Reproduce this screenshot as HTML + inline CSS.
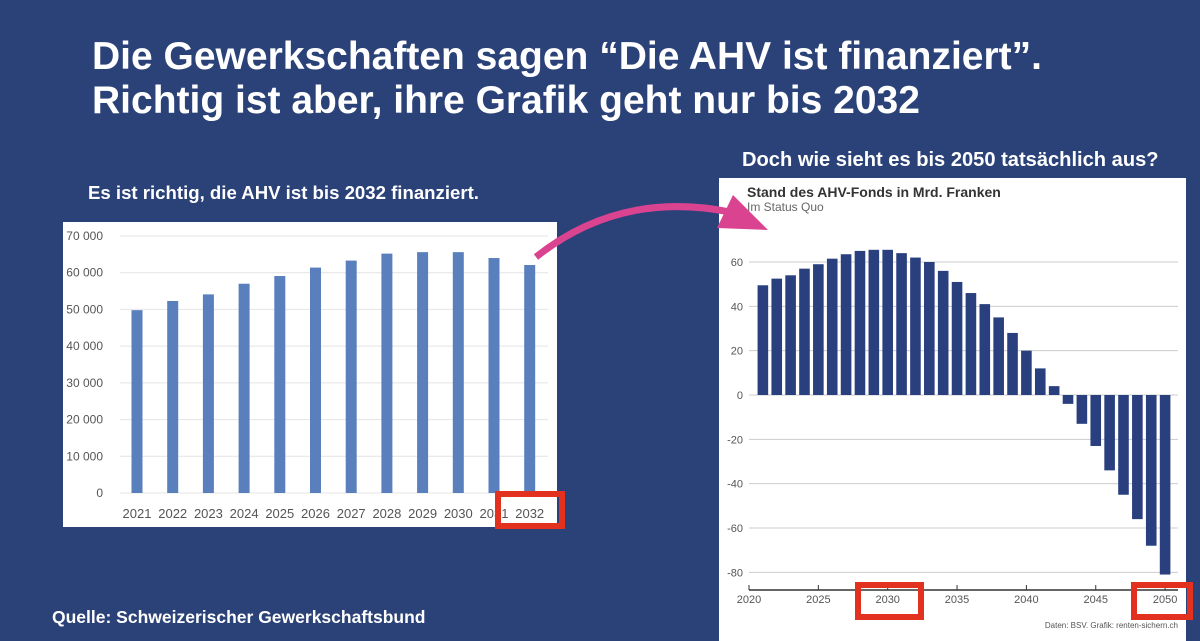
<!DOCTYPE html>
<html><head><meta charset="utf-8"><style>
html,body{margin:0;padding:0}
body{width:1200px;height:641px;background:#2b4278;position:relative;overflow:hidden;font-family:"Liberation Sans",sans-serif}
.t{position:absolute;color:#fff;font-weight:bold;white-space:nowrap}
svg{position:absolute;left:0;top:0}
</style></head><body>
<div class="t" style="left:92px;top:35px;font-size:39px;line-height:44px">Die Gewerkschaften sagen “Die AHV ist finanziert”.<br>Richtig ist aber, ihre Grafik geht nur bis 2032</div>
<div class="t" style="left:88px;top:182px;font-size:18.6px">Es ist richtig, die AHV ist bis 2032 finanziert.</div>
<div class="t" style="left:742px;top:149px;font-size:20.1px">Doch wie sieht es bis 2050 tatsächlich aus?</div>
<div class="t" style="left:52px;top:607px;font-size:17.5px">Quelle: Schweizerischer Gewerkschaftsbund</div>
<svg id="s" width="1200" height="641"></svg>
<script>
const leftYears=["2021","2022","2023","2024","2025","2026","2027","2028","2029","2030","2031","2032"];
const leftValues=[49800,52300,54100,57000,59100,61400,63300,65200,65600,65600,64000,62100];
const leftTicks=[0,10000,20000,30000,40000,50000,60000,70000];
const rightYears=[2021,2022,2023,2024,2025,2026,2027,2028,2029,2030,2031,2032,2033,2034,2035,2036,2037,2038,2039,2040,2041,2042,2043,2044,2045,2046,2047,2048,2049,2050];
const rightValues=[49.5,52.5,54,57,59,61.5,63.5,65,65.5,65.5,64,62,60,56,51,46,41,35,28,20,12,4,-4,-13,-23,-34,-45,-56,-68,-81];
const rightTicks=[-80,-60,-40,-20,0,20,40,60];
const rightXTicks=[2020,2025,2030,2035,2040,2045,2050];
const NS="http://www.w3.org/2000/svg",s=document.getElementById('s');
function mk(t,a,txt){const e=document.createElementNS(NS,t);for(const k in a)e.setAttribute(k,a[k]);if(txt!=null)e.textContent=txt;s.appendChild(e);return e;}
let e=mk('rect',{x:63,y:222,width:494,height:305,fill:'#fff'});

const ly=v=>493-v*(257/70000), lx=i=>137+i*35.7;
leftTicks.forEach(v=>{let g=mk('line',{x1:120,x2:548,y1:ly(v),y2:ly(v),stroke:'#e4e4e4'});
let t=mk('text',{x:103,y:ly(v)+4,'text-anchor':'end','font-size':12,fill:'#555'},v===0?'0':(v/1000)+' 000');});
leftValues.forEach((v,i)=>{let b=mk('rect',{x:lx(i)-5.5,y:ly(v),width:11,height:ly(0)-ly(v),fill:'#5a7fbd'});
let t=mk('text',{x:lx(i),y:518,'text-anchor':'middle','font-size':13,fill:'#555'},leftYears[i]);});
e=mk('rect',{x:498,y:494,width:64,height:32,fill:'none',stroke:'#e2321f','stroke-width':6});
e=mk('rect',{x:719,y:178,width:467,height:463,fill:'#fff'});
e=mk('text',{x:747,y:197,'font-size':14,'font-weight':'bold',fill:'#333'},'Stand des AHV-Fonds in Mrd. Franken');
e=mk('text',{x:747,y:211,'font-size':12,fill:'#666'},'Im Status Quo');
const ry=v=>395-v*(133/60), rx=y=>749+(y-2020)*13.87;
rightTicks.forEach(v=>{let g=mk('line',{x1:749,x2:1178,y1:ry(v),y2:ry(v),stroke:'#ccc'});
let t=mk('text',{x:743,y:ry(v)+4,'text-anchor':'end','font-size':11,fill:'#555'},String(v));});
rightValues.forEach((v,i)=>{const y0=ry(0),y1=ry(v);let b=mk('rect',{x:rx(rightYears[i])-5.3,y:Math.min(y0,y1),width:10.6,height:Math.abs(y1-y0),fill:'#2a3f7e'});});
e=mk('line',{x1:749,x2:1178,y1:590,y2:590,stroke:'#333','stroke-width':1.5});
rightXTicks.forEach(y=>{let l=mk('line',{x1:rx(y),x2:rx(y),y1:585,y2:590,stroke:'#333'});
let t=mk('text',{x:rx(y),y:603,'text-anchor':'middle','font-size':11,fill:'#555'},String(y));});
e=mk('text',{x:1178,y:628,'text-anchor':'end','font-size':8,fill:'#555'},'Daten: BSV. Grafik: renten-sichern.ch');
e=mk('rect',{x:858,y:585,width:63,height:32,fill:'none',stroke:'#e2321f','stroke-width':6});
e=mk('rect',{x:1134,y:585,width:56,height:32,fill:'none',stroke:'#e2321f','stroke-width':6});
e=mk('path',{d:'M536,257 Q620,190 730,212',fill:'none',stroke:'#d9438f','stroke-width':7});
e=mk('polygon',{points:'733,195 768,230 717,228',fill:'#d9438f'});
</script>
</body></html>
